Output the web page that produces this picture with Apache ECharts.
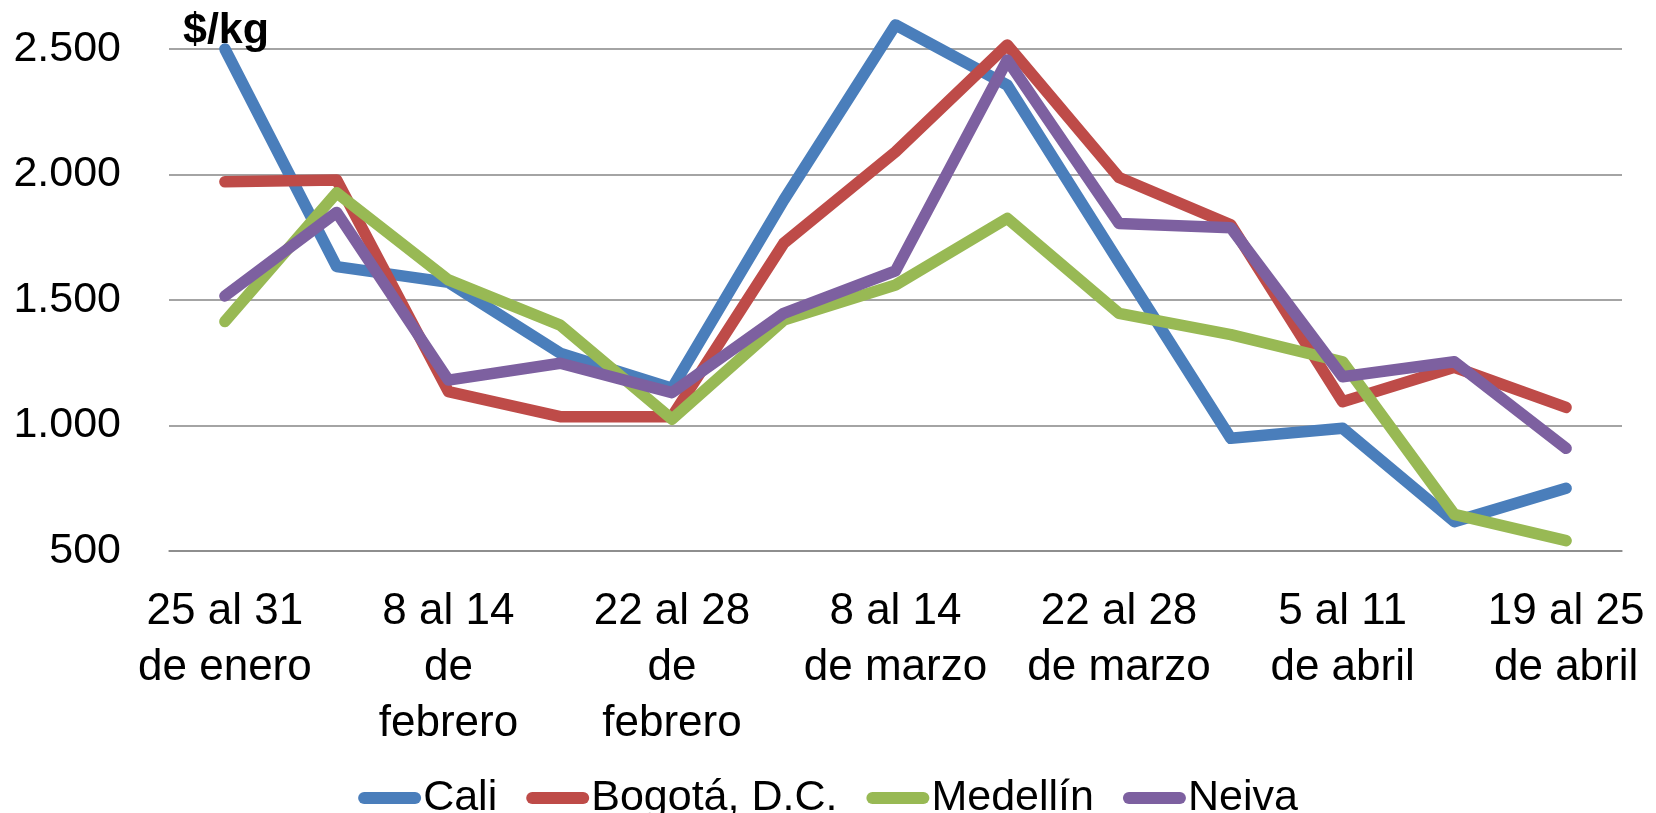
<!DOCTYPE html>
<html>
<head>
<meta charset="utf-8">
<script src="https://cdn.jsdelivr.net/npm/echarts@6/dist/echarts.min.js"></script>
<style>
html,body{margin:0;padding:0;background:#fff;}
#chart{width:1656px;height:813px;}
</style>
</head>
<body>
<div id="chart"></div>
<script>
var categories = [
  '25 al 31\nde enero', '1 al 7\nde febrero', '8 al 14\nde\nfebrero', '15 al 21\nde febrero',
  '22 al 28\nde\nfebrero', '1 al 7\nde marzo', '8 al 14\nde marzo', '15 al 21\nde marzo',
  '22 al 28\nde marzo', '29 de marzo\nal 4 de abril', '5 al 11\nde abril', '12 al 18\nde abril',
  '19 al 25\nde abril'
];
var seriesNames = ['Cali', 'Bogotá, D.C.', 'Medellín', 'Neiva'];
var cali     = [2500, 1633, 1570, 1288, 1148, 1898, 2596, 2356, 1650, 949, 989, 617, 750];
var bogota   = [1971, 1978, 1135, 1035, 1035, 1726, 2090, 2516, 1988, 1800, 1095, 1232, 1072];
var medellin = [1414, 1927, 1580, 1400, 1025, 1420, 1560, 1825, 1447, 1362, 1254, 646, 541];
var neiva    = [1516, 1849, 1181, 1248, 1131, 1447, 1616, 2456, 1805, 1788, 1194, 1254, 909];
var yTicks = { min: 500, max: 2500, interval: 500 };
var unitLabel = '$/kg';

var colors = ['#4A7EBB', '#BE4B48', '#98B954', '#7D60A0'];
var FONT = '"Liberation Sans", Arial, sans-serif';

function fmt(v) { return String(v).replace(/\B(?=(\d{3})+(?!\d))/g, '.'); }

var chart = echarts.init(document.getElementById('chart'), null, { renderer: 'canvas' });
var data = [cali, bogota, medellin, neiva];
var option = {
  animation: false,
  backgroundColor: '#ffffff',
  color: colors,
  grid: { left: 169, right: 34, top: 49, bottom: 262, containLabel: false },
  legend: {
    data: seriesNames,
    left: 'center',
    top: 768,
    icon: 'path://M6,0 L57,0 A6,6 0 0 1 57,12 L6,12 A6,6 0 0 1 6,0 Z',
    itemWidth: 63,
    itemHeight: 12,
    itemGap: 29,
    textStyle: { fontFamily: FONT, fontSize: 43, color: '#000', lineHeight: 50, padding: [0, 0, 0, -3] }
  },
  xAxis: {
    type: 'category',
    data: categories,
    boundaryGap: true,
    axisLine: { show: true, lineStyle: { color: '#868686', width: 1.5 } },
    axisTick: { show: false },
    splitLine: { show: false },
    axisLabel: {
      interval: 1,
      margin: 33,
      fontFamily: FONT,
      fontSize: 44,
      lineHeight: 56,
      color: '#000',
      align: 'center'
    }
  },
  yAxis: {
    type: 'value',
    min: yTicks.min,
    max: yTicks.max,
    interval: yTicks.interval,
    axisLine: { show: false },
    axisTick: { show: false },
    splitLine: { show: true, lineStyle: { color: '#868686', width: 1.5 } },
    axisLabel: {
      margin: 48,
      fontFamily: FONT,
      fontSize: 43,
      color: '#000',
      formatter: fmt
    }
  },
  graphic: [{
    type: 'text',
    x: 183,
    y: 31,
    z: 100,
    style: {
      text: unitLabel,
      font: 'bold 43px "Liberation Sans", Arial, sans-serif',
      fill: '#000',
      textVerticalAlign: 'middle',
      textAlign: 'left'
    }
  }],
  series: seriesNames.map(function (name, i) {
    return {
      name: name,
      type: 'line',
      data: data[i],
      showSymbol: false,
      symbol: 'none',
      clip: false,
      smooth: false,
      lineStyle: { width: 11.5, color: colors[i], cap: 'round', join: 'round' },
      itemStyle: { color: colors[i] }
    };
  })
};
chart.setOption(option);
</script>
</body>
</html>
